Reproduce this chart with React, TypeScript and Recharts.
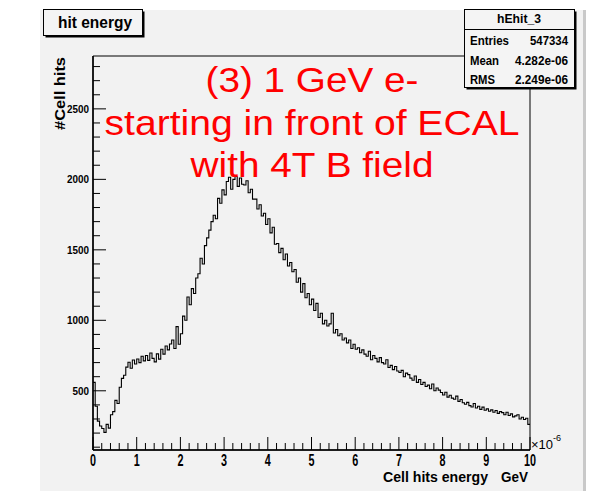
import { LineChart, Line, XAxis, YAxis, ReferenceArea } from 'recharts'

// hit energy histogram, bins of 0.05 (x 1e-6 GeV), counts
const BIN_WIDTH = 0.05
const binCounts = [
  560, 390, 285, 250, 232, 205, 262, 235, 330, 352,
  432, 410, 525, 588, 610, 668, 702, 660, 718, 690,
  726, 700, 745, 712, 750, 716, 768, 730, 705, 762,
  725, 795, 760, 818, 790, 832, 860, 800, 955, 830,
  905, 1030, 1000, 1165, 1110, 1225, 1190, 1300, 1330, 1440,
  1400, 1530, 1585, 1640, 1700, 1745, 1720, 1865, 1830, 1925,
  1890, 1985, 2015, 1930, 2000, 2020, 1950, 2010, 1965, 1960,
  1990, 1905, 1930, 1860, 1860, 1790, 1820, 1740, 1760, 1680,
  1720, 1620, 1660, 1540, 1545, 1480, 1510, 1430, 1470, 1385,
  1410, 1345, 1360, 1270, 1300, 1200, 1260, 1160, 1190, 1110,
  1150, 1070, 1120, 1020, 1050, 975, 1000, 960, 975, 1050,
  910, 935, 890, 905, 860, 875, 840, 860, 800, 830,
  795, 805, 770, 790, 760, 745, 780, 720, 750, 730,
  705, 735, 700, 690, 720, 665, 680, 650, 672, 640,
  630, 645, 600, 625, 615, 590, 575, 605, 560, 580,
  545, 560, 530, 540, 515, 548, 500, 520, 505, 488,
  470, 490, 455, 468, 448, 440, 462, 425, 438, 415,
  405, 418, 395, 385, 410, 378, 390, 368, 384, 362,
  372, 355, 365, 348, 360, 340, 352, 345, 330, 348,
  325, 336, 315, 322, 330, 300, 312, 296, 305, 262,
]

const xMajorTicks = [0, 1, 2, 3, 4, 5, 6, 7, 8, 9, 10]
const yMajorTicks = [500, 1000, 1500, 2000, 2500]
const X_DOMAIN = [0, 10]
const Y_DOMAIN = [80, 2875]

const statsRows = [
  ['Entries', '547334'],
  ['Mean', '4.282e-06'],
  ['RMS', '2.249e-06'],
]
const noteLines = ['(3) 1 GeV e-', 'starting in front of ECAL', 'with 4T B field']

const histData = binCounts.map((c, i) => ({ e: Math.round(i * BIN_WIDTH * 100) / 100, hits: c }))
histData.push({ e: X_DOMAIN[1], hits: binCounts[binCounts.length - 1] })

// minor ticks: 5 per unit on x, every 100 on y
const xTicks: number[] = []
for (let i = 0; i <= 50; i++) xTicks.push(Math.round(i * 2) / 10)
const yTicks: number[] = []
for (let v = 100; v <= 2800; v += 100) yTicks.push(v)

const FONT = '"Liberation Sans", Arial, Helvetica, sans-serif'
const TICK_MARGIN = 4

function XTick(props: any) {
  const { x, y, payload } = props
  const v = payload.value
  const major = xMajorTicks.some(t => Math.abs(t - v) < 1e-6)
  const axisY = y - TICK_MARGIN
  const label = String(Math.round(v))
  return (
    <g>
      <line x1={x} x2={x} y1={axisY} y2={axisY - (major ? 13 : 7)} stroke="#000" strokeWidth={1} />
      {major && (
        <text x={x} y={axisY + 16} textAnchor="middle" fontSize={16} fontWeight="bold" fontFamily={FONT}
          fill="#000" textLength={label.length * 6} lengthAdjust="spacingAndGlyphs">{label}</text>
      )}
    </g>
  )
}

function YTick(props: any) {
  const { x, y, payload } = props
  const v = payload.value
  const major = yMajorTicks.includes(v)
  const axisX = x + TICK_MARGIN
  const label = String(v)
  return (
    <g>
      <line x1={axisX} x2={axisX + (major ? 13 : 7)} y1={y} y2={y} stroke="#000" strokeWidth={1} />
      {major && (
        <text x={x} y={y + 4} textAnchor="end" fontSize={11} fontWeight="bold" fontFamily={FONT}
          fill="#000" textLength={label.length * 5.5} lengthAdjust="spacingAndGlyphs">{label}</text>
      )}
    </g>
  )
}

export default function App() {
  return (
    <div style={{ position: 'absolute', left: 0, top: 0, width: 593, height: 495, background: '#fff', overflow: 'hidden' }}>
      <div style={{ position: 'absolute', left: 40, top: 10, width: 543, height: 481, background: '#f2f2f2', borderRight: '3px solid #c9c9c9' }} />
      <div style={{ position: 'absolute', left: 0, top: 0 }}>
        <LineChart width={593} height={495} data={histData} margin={{ top: 56, right: 63, bottom: 0, left: 0 }}>
          <XAxis dataKey="e" type="number" domain={X_DOMAIN} ticks={xTicks} interval={0} allowDataOverflow
            height={45} tickSize={0} tickMargin={TICK_MARGIN} tickLine={false} tick={<XTick />}
            axisLine={{ stroke: '#000', strokeWidth: 1.5 }} />
          <YAxis type="number" domain={Y_DOMAIN} ticks={yTicks} interval={0} allowDataOverflow
            width={93} tickSize={0} tickMargin={TICK_MARGIN} tickLine={false} tick={<YTick />}
            axisLine={{ stroke: '#000', strokeWidth: 1.5 }} />
          <ReferenceArea x1={X_DOMAIN[0]} x2={X_DOMAIN[1]} y1={Y_DOMAIN[0]} y2={Y_DOMAIN[1]}
            fill="none" stroke="#000" strokeWidth={1} ifOverflow="visible" />
          <Line type="stepAfter" dataKey="hits" stroke="#000" strokeWidth={1.1} dot={false} isAnimationActive={false} />
        </LineChart>
      </div>
      <svg width={593} height={495} style={{ position: 'absolute', left: 0, top: 0, pointerEvents: 'none' }} fontFamily={FONT}>
        {/* title box */}
        <rect x={45.5} y={11.5} width={99} height={26} fill="#000" />
        <rect x={43.5} y={9.5} width={99} height={26} fill="#f4f4f4" stroke="#000" />
        <text x={58} y={28} fontSize={17} fontWeight="bold" textLength={74} lengthAdjust="spacingAndGlyphs">hit energy</text>

        {/* stats box */}
        <rect x={466.5} y={11.5} width={110} height={78} fill="#000" />
        <rect x={464.5} y={9.5} width={110} height={78} fill="#f4f4f4" stroke="#000" />
        <line x1={464.5} x2={574.5} y1={29.5} y2={29.5} stroke="#000" />
        <text x={519} y={23} fontSize={13} fontWeight="bold" textAnchor="middle" textLength={44} lengthAdjust="spacingAndGlyphs">hEhit_3</text>
        {statsRows.map(([k, v], i) => (
          <g key={k}>
            <text x={470} y={45 + i * 19.5} fontSize={13} fontWeight="bold" textLength={[39, 29, 25][i]} lengthAdjust="spacingAndGlyphs">{k}</text>
            <text x={568} y={45 + i * 19.5} fontSize={13} fontWeight="bold" textAnchor="end" textLength={[38, 53, 53][i]} lengthAdjust="spacingAndGlyphs">{v}</text>
          </g>
        ))}

        {/* annotation */}
        {noteLines.map((t, i) => (
          <text key={t} x={312} y={92 + i * 42.5} fontSize={35} fill="#ff0000" textAnchor="middle"
            textLength={[213, 415, 243][i]} lengthAdjust="spacingAndGlyphs">{t}</text>
        ))}

        {/* axis titles */}
        <text x={65} y={93.5} transform="rotate(-90 65 93.5)" fontSize={14} fontWeight="bold" textAnchor="middle"
          textLength={73} lengthAdjust="spacingAndGlyphs">#Cell hits</text>
        <text y={482} fontSize={15} fontWeight="bold">
          <tspan x={383} textLength={105} lengthAdjust="spacingAndGlyphs">Cell hits energy</tspan>
          <tspan x={501} textLength={27} lengthAdjust="spacingAndGlyphs">GeV</tspan>
        </text>
        <text x={531} y={449} fontSize={13}>
          ×10<tspan fontSize={9} dy={-8}>-6</tspan>
        </text>
      </svg>
    </div>
  )
}
